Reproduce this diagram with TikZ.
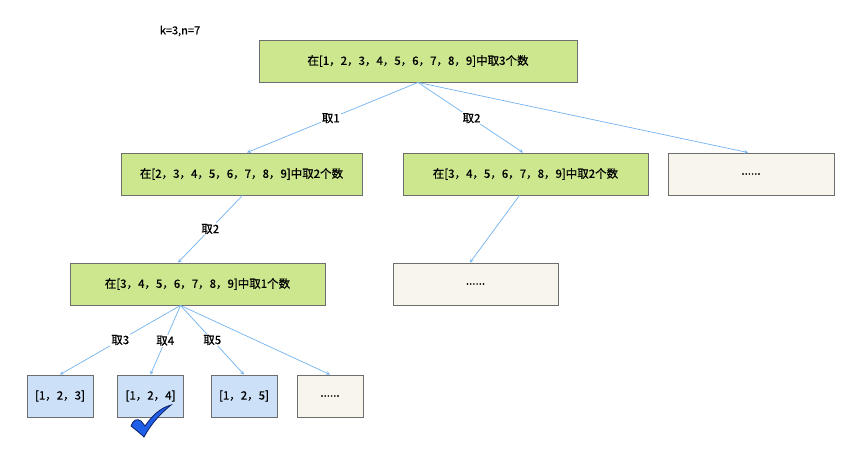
\documentclass[tikz,border=0pt]{standalone}
\usepackage{fontspec}
\usepackage{xcolor}
\usepackage{tikz}
\usetikzlibrary{arrows, calc}
\newfontfamily\cjk[FakeBold=0.6]{Noto Sans CJK SC}
\definecolor{pickfill}{HTML}{CDE78F}
\definecolor{restfill}{HTML}{F8F6EC}
\definecolor{leaffill}{HTML}{CCE1F8}
\definecolor{boxline}{HTML}{6E6E6E}
\definecolor{edgeblue}{HTML}{72B2EE}
\definecolor{tickblue}{HTML}{1F5FE8}
\definecolor{tickline}{HTML}{0C1F63}

\tikzset{
    pickbox/.style={draw=boxline, line width=0.9pt, fill=pickfill, minimum height=42pt, inner sep=0pt, font=\cjk\fontsize{11.5}{13}\selectfont},
    restbox/.style={draw=boxline, line width=0.9pt, fill=restfill, minimum height=42pt, inner sep=0pt, font=\cjk\fontsize{11.5}{13}\selectfont},
    leafbox/.style={draw=boxline, line width=0.9pt, fill=leaffill, minimum width=66pt, minimum height=42pt, inner sep=0pt, font=\cjk\fontsize{11.5}{13}\selectfont},
    edge/.style={draw=edgeblue, line width=0.7pt, -stealth},
    edgelabel/.style={fill=white, inner sep=1pt, font=\cjk\fontsize{11.5}{13}\selectfont}
}

\begin{document}
\begin{tikzpicture}[x=1pt, y=-1pt]
    \useasboundingbox (0,0) rectangle (849,471);
    % Problem parameters
    \node[font=\cjk\fontsize{11}{13}\selectfont] (param) at (180,31) {k=3,n=7};
    % Root
    \node[pickbox, minimum width=318pt] (root) at (418,61) {在[1，2，3，4，5，6，7，8，9]中取3个数};
    % Second level
    \node[pickbox, minimum width=241pt] (takeA) at (241.5,174) {在[2，3，4，5，6，7，8，9]中取2个数};
    \node[pickbox, minimum width=245pt] (takeB) at (525.5,174) {在[3，4，5，6，7，8，9]中取2个数};
    \node[restbox, minimum width=166pt] (moreA) at (751,174) {......};
    % Third level
    \node[pickbox, minimum width=255pt] (takeC) at (197.5,284) {在[3，4，5，6，7，8，9]中取1个数};
    \node[restbox, minimum width=165pt] (moreB) at (475.5,284) {......};
    % Leaves
    \node[leafbox] (leafA) at (60,396) {[1，2，3]};
    \node[leafbox] (leafB) at (150.5,396) {[1，2，4]};
    \node[leafbox] (leafC) at (244,396) {[1，2，5]};
    \node[restbox, minimum width=66pt] (moreC) at (330,396) {......};

    % Edges
    \draw[edge] (root.south) -- (takeA.north -| 247,0) node[edgelabel, pos=0.51] {取1};
    \draw[edge] (root.south) -- (takeB.north -| 523,0) node[edgelabel, pos=0.51] {取2};
    \draw[edge] (root.south) -- (moreA.north -| 748,0);
    \draw[edge] ($(takeA.south)+(1,0)$) -- (takeC.north -| 178,0) node[edgelabel, pos=0.5] {取2};
    \draw[edge] ($(takeB.south)+(-6,0)$) -- (moreB.north -| 470,0);
    \draw[edge] ($(takeC.south)+(-17,0)$) -- (leafA.north) node[edgelabel, pos=0.5] {取3};
    \draw[edge] ($(takeC.south)+(-17,0)$) -- (leafB.north) node[edgelabel, pos=0.51] {取4};
    \draw[edge] ($(takeC.south)+(-17,0)$) -- (leafC.north) node[edgelabel, pos=0.5] {取5};
    \draw[edge] ($(takeC.south)+(-17,0)$) -- (moreC.north);

    % Check mark under the chosen leaf
    \filldraw[fill=tickblue, draw=tickline, line width=0.8pt]
        (131,426) .. controls (133,420) and (137,418) .. (141,421)
        -- (145,426) .. controls (152,416) and (160,408) .. (171,405)
        .. controls (160,414) and (151,424) .. (144,437)
        .. controls (141,434) and (136,430) .. (131,426) -- cycle;
\end{tikzpicture}
\end{document}
